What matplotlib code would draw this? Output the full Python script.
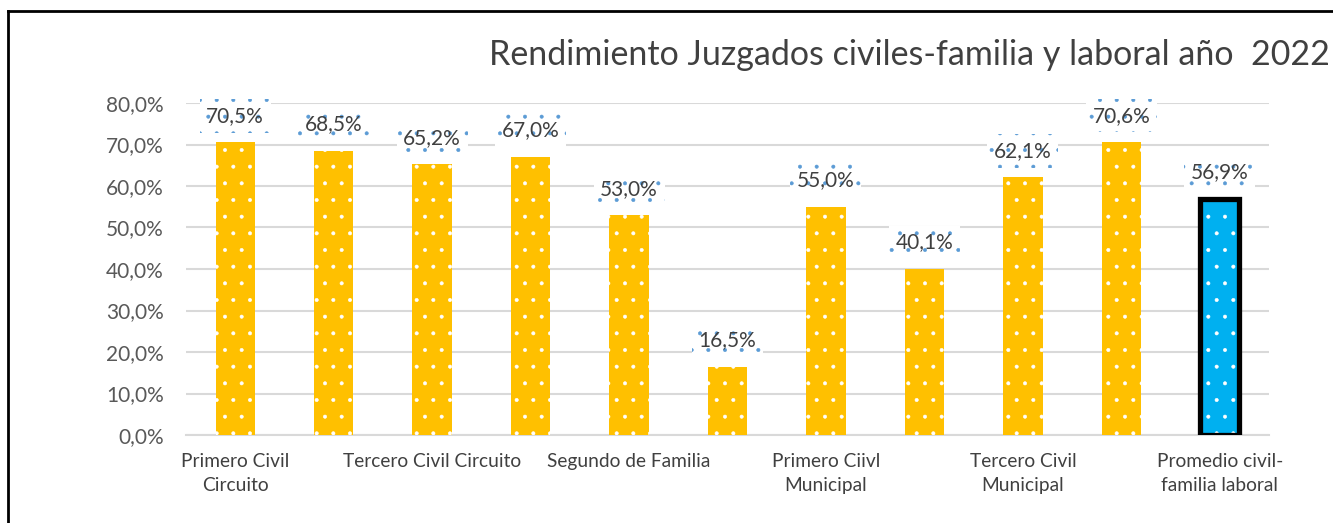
import matplotlib
matplotlib.use("Agg")
import matplotlib.pyplot as plt
from matplotlib.lines import Line2D

plt.rcParams['font.family'] = ['Lato', 'DejaVu Sans']
plt.rcParams['hatch.linewidth'] = 0.4

# Data
categories = ["Primero Civil\nCircuito", "", "Tercero Civil Circuito", "", "Segundo de Familia", "",
              "Primero Ciivl\nMunicipal", "", "Tercero Civil\nMunicipal", "", "Promedio civil-\nfamilia laboral"]
values = [70.5, 68.5, 65.2, 67.0, 53.0, 16.5, 55.0, 40.1, 62.1, 70.6, 56.9]
value_labels = ["70,5%", "68,5%", "65,2%", "67,0%", "53,0%", "16,5%", "55,0%", "40,1%", "62,1%", "70,6%", "56,9%"]
yticks = [0, 10, 20, 30, 40, 50, 60, 70, 80]
ytick_labels = ["0,0%", "10,0%", "20,0%", "30,0%", "40,0%", "50,0%", "60,0%", "70,0%", "80,0%"]
title = "Rendimiento Juzgados civiles-familia y laboral año  2022"

YELLOW = "#FFC000"
BLUE = "#00B0F0"

fig = plt.figure(figsize=(13.33, 5.23), dpi=100)
ax = fig.add_axes([186/1333, 1-435/523, (1269-186)/1333, (435-103)/523])

x = list(range(len(values)))
n = len(values)
ax.bar(x[:-1], values[:-1], width=0.4, color=YELLOW, edgecolor="white",
       linewidth=0, hatch=".", zorder=3)
ax.bar(x[-1:], values[-1:], width=0.4, color=BLUE, edgecolor="white",
       linewidth=0, hatch=".", zorder=3)
ax.bar(x[-1:], values[-1:], width=0.4, fill=False, edgecolor="black",
       linewidth=3.8, zorder=4)

for xi, v, lab in zip(x, values, value_labels):
    ax.annotate(lab, xy=(xi, v), xytext=(0, 19), textcoords="offset points",
                ha="center", va="center", fontsize=15, color="#404040", zorder=5,
                bbox=dict(boxstyle="square,pad=0.32", facecolor="white",
                          edgecolor="#5B9BD5", linewidth=0, hatch="."))

ax.set_xlim(-0.5, n-0.5)
ax.set_ylim(0, 80)
ax.set_yticks(yticks)
ax.set_yticklabels(ytick_labels, fontsize=15, color="#595959")
ax.set_xticks(x)
ax.set_xticklabels(categories, fontsize=13.8, color="#404040", linespacing=1.5)
ax.tick_params(axis="x", length=0, pad=13)
ax.tick_params(axis="y", length=0, pad=16)
ax.grid(axis="y", color="#D9D9D9", linewidth=1.5, zorder=0)
ax.set_axisbelow(True)
for s in ["left", "right", "top"]:
    ax.spines[s].set_visible(False)
ax.spines["bottom"].set_color("#D9D9D9")
ax.spines["bottom"].set_linewidth(1.5)

fig.text(1330/1333, 1-55/523, title, ha="right", va="center", fontsize=24.5, color="#404040")

# outer frame
fig.add_artist(Line2D([8/1333, 8/1333], [0, 1-11/523], transform=fig.transFigure,
                      color="black", linewidth=2))
fig.add_artist(Line2D([8/1333, 1], [1-11/523, 1-11/523], transform=fig.transFigure,
                      color="black", linewidth=2))

fig.savefig("out.png", dpi=100)
